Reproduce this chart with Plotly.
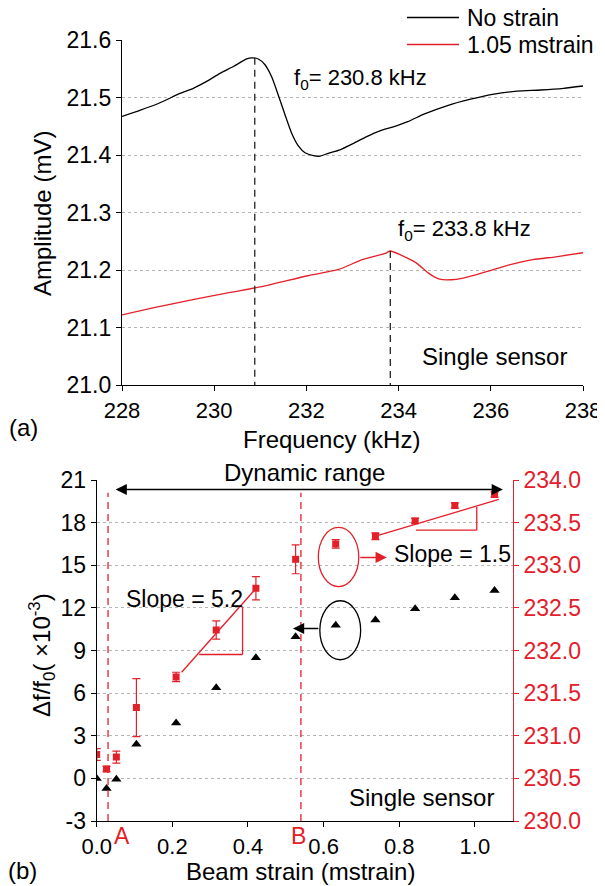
import plotly.graph_objects as go

# ---------------- data: panel (a) ----------------
freq_no_strain = [228.0, 228.4, 228.8, 229.258, 229.547, 229.836, 230.125, 230.415, 230.704, 230.812,
                  230.957, 231.102, 231.246, 231.391, 231.536, 231.68, 231.825, 231.97, 232.15, 232.295,
                  232.476, 232.729, 233.018, 233.308, 233.597, 233.886, 234.2, 234.55, 235.06, 235.56,
                  236.07, 236.57, 237.08, 237.58, 238.0]
amp_no_strain = [21.467, 21.478, 21.490, 21.507, 21.516, 21.528, 21.542, 21.554, 21.567, 21.569,
                 21.567, 21.557, 21.536, 21.504, 21.470, 21.438, 21.416, 21.404, 21.399, 21.398,
                 21.403, 21.409, 21.420, 21.432, 21.442, 21.449, 21.458, 21.471, 21.486, 21.497,
                 21.506, 21.511, 21.513, 21.516, 21.520]
freq_strain = [228.0, 228.67, 229.51, 230.35, 231.03, 232.03, 232.7, 233.21, 233.71, 233.82,
               234.05, 234.39, 234.64, 234.89, 235.14, 235.4, 235.9, 236.4, 236.91, 237.41, 238.0]
amp_strain = [21.122, 21.134, 21.148, 21.161, 21.171, 21.190, 21.201, 21.218, 21.229, 21.233,
              21.226, 21.212, 21.195, 21.184, 21.183, 21.186, 21.197, 21.209, 21.218, 21.223, 21.230]
peak_freq = [230.88, 233.82]
peak_amp = [21.569, 21.233]
peak_labels = ["f<sub>0</sub>= 230.8 kHz", "f<sub>0</sub>= 233.8 kHz"]
series_names = ["No strain", "1.05 mstrain"]
a_xticks = [228, 230, 232, 234, 236, 238]
a_yticks = [21.0, 21.1, 21.2, 21.3, 21.4, 21.5, 21.6]
a_yticklabels = ["21.0", "21.1", "21.2", "21.3", "21.4", "21.5", "21.6"]

# ---------------- data: panel (b) ----------------
strain = [0.0, 0.026, 0.052, 0.105, 0.21, 0.316, 0.421, 0.526, 0.632, 0.737, 0.842, 0.947, 1.052]
dff = [0.0, -0.72, -0.07, 2.41, 3.9, 6.38, 8.49, 9.96, 10.78, 11.15, 11.94, 12.72, 13.23]
res_freq = [230.78, 230.61, 230.75, 231.33, 231.69, 232.24, 232.73, 233.07, 233.25, 233.34,
            233.52, 233.70, 233.83]
res_err = [0.07, 0.03, 0.07, 0.34, 0.055, 0.107, 0.137, 0.17, 0.05, 0.04, 0.03, 0.03, 0.03]
marker_strain = [0.03, 0.54]
marker_labels = ["A", "B"]
b_xticks = [0.0, 0.2, 0.4, 0.6, 0.8, 1.0]
b_xticklabels = ["0.0", "0.2", "0.4", "0.6", "0.8", "1.0"]
b_yticks = [-3, 0, 3, 6, 9, 12, 15, 18, 21]
b_yticklabels = ["-3", "0", "3", "6", "9", "12", "15", "18", "21"]
b_y2ticks = [230.0, 230.5, 231.0, 231.5, 232.0, 232.5, 233.0, 233.5, 234.0]
b_y2ticklabels = ["230.0", "230.5", "231.0", "231.5", "232.0", "232.5", "233.0", "233.5", "234.0"]

# ---------------- styling ----------------
OFF = 8            # page offset of the plot div (default body margin)
W, H = 605 - OFF, 886 - OFF
RED = "#e3202a"
FONT = "Liberation Sans, Arial, sans-serif"
YTICK = 23
XTICK = 22
TXT = 23


def px(x):
    return (x - OFF) / W


def py(y):
    return 1 - (y - OFF) / H


fig = go.Figure()

# panel (a) curves
fig.add_trace(go.Scatter(x=freq_no_strain, y=amp_no_strain, mode="lines", name=series_names[0],
                         line=dict(color="black", width=1.3, shape="spline", smoothing=0.6),
                         xaxis="x", yaxis="y"))
fig.add_trace(go.Scatter(x=freq_strain, y=amp_strain, mode="lines", name=series_names[1],
                         line=dict(color=RED, width=1.3, shape="spline", smoothing=0.6),
                         xaxis="x", yaxis="y"))
# dashed peak markers
for f, a in zip(peak_freq, peak_amp):
    fig.add_trace(go.Scatter(x=[f, f], y=[a, a_yticks[0]], mode="lines", showlegend=False,
                             line=dict(color="#222222", width=1.3, dash="7px,5px"),
                             xaxis="x", yaxis="y"))

# panel (b)
fig.add_trace(go.Scatter(x=strain, y=dff, mode="markers", name="Δf/f0",
                         marker=dict(symbol="triangle-up", size=9, color="black"),
                         xaxis="x2", yaxis="y2"))
fig.add_trace(go.Scatter(x=strain, y=res_freq, mode="markers", name="Resonant frequency",
                         marker=dict(symbol="square", size=7, color=RED),
                         error_y=dict(type="data", array=res_err, visible=True, color=RED,
                                      thickness=1.2, width=4),
                         xaxis="x2", yaxis="y3"))

shapes = []
# A / B dashed lines
for s in marker_strain:
    shapes.append(dict(type="line", xref="x2", yref="y2", x0=s, x1=s, y0=-3, y1=20.1,
                       line=dict(color=RED, width=1.3, dash="7px,5px")))
# slope triangles
red_line = dict(color=RED, width=1.3)
shapes += [
    dict(type="line", xref="x2", yref="y2", x0=0.2246, y0=7.47, x1=0.421, y1=13.36, line=red_line),
    dict(type="line", xref="x2", yref="y2", x0=0.271, y0=8.72, x1=0.3857, y1=8.72, line=red_line),
    dict(type="line", xref="x2", yref="y2", x0=0.3857, y0=8.72, x1=0.3857, y1=12.1, line=red_line),
    dict(type="line", xref="x2", yref="y2", x0=0.731, y0=17.0, x1=1.063, y1=19.63, line=red_line),
    dict(type="line", xref="x2", yref="y2", x0=0.844, y0=17.47, x1=1.005, y1=17.47, line=red_line),
    dict(type="line", xref="x2", yref="y2", x0=1.005, y0=17.47, x1=1.005, y1=19.1, line=red_line),
    dict(type="circle", xref="x2", yref="y2", x0=0.586, x1=0.693, y0=13.5, y1=17.66,
         line=dict(color=RED, width=1.3)),
    dict(type="circle", xref="x2", yref="y2", x0=0.59, x1=0.698, y0=8.35, y1=12.5,
         line=dict(color="black", width=1.3)),
]
# manual legend samples
shapes += [
    dict(type="line", xref="paper", yref="paper", x0=px(407), x1=px(459), y0=py(17.5), y1=py(17.5),
         line=dict(color="black", width=1.3)),
    dict(type="line", xref="paper", yref="paper", x0=px(407), x1=px(459), y0=py(44.5), y1=py(44.5),
         line=dict(color=RED, width=1.3)),
]

ann = []


def text(x, y, t, size=TXT, color="black", xanchor="center", yanchor="middle", xref="paper",
         yref="paper", angle=0):
    ann.append(dict(x=x, y=y, text=t, showarrow=False, xref=xref, yref=yref, xanchor=xanchor,
                    yanchor=yanchor, textangle=angle, font=dict(size=size, color=color, family=FONT)))


# legend texts
text(px(465), py(17.5), series_names[0], xanchor="left")
text(px(465), py(44.5), series_names[1], xanchor="left")
# panel (a) texts
text(231.68, 21.532, peak_labels[0], xanchor="left", xref="x", yref="y", size=22)
text(233.95, 21.27, peak_labels[1], xanchor="left", xref="x", yref="y", size=22)
text(236.08, 21.05, "Single sensor", xref="x", yref="y", size=24)
text(px(331), py(439), "Frequency (kHz)", size=24)
text(px(42), py(214), "Amplitude (mV)", size=24, angle=-90)
text(px(23), py(428), "(a)", size=24)
# panel (b) texts
text(px(304), py(472), "Dynamic range", size=24)
text(0.233, 12.6, "Slope = 5.2", xref="x2", yref="y2")
text(0.941, 15.76, "Slope = 1.5", xref="x2", yref="y2")
text(0.859, -1.38, "Single sensor", xref="x2", yref="y2", size=24)
for s, lab, dx in zip(marker_strain, marker_labels, [0.036, -0.006]):
    text(s + dx, -3, lab, xref="x2", yref="y2", color=RED, size=23, yanchor="top")
text(px(300), py(871), "Beam strain (mstrain)", size=24)
text(px(42), py(655), "Δf/f<sub>0</sub>( ×10<sup>-3</sup>)", size=24, angle=-90)
text(px(609), py(647), "Resonant frequency (kHz)", size=24, angle=-90)
text(px(22), py(870), "(b)", size=24)

# arrows
ann.append(dict(x=1.074, y=20.33, ax=0.046, ay=20.33, xref="x2", yref="y2", axref="x2", ayref="y2",
                text="", showarrow=True, arrowhead=2, arrowside="end+start", arrowsize=1.6,
                arrowwidth=1.4, arrowcolor="black"))
ann.append(dict(x=0.767, y=15.55, ax=0.693, ay=15.55, xref="x2", yref="y2", axref="x2", ayref="y2",
                text="", showarrow=True, arrowhead=2, arrowsize=1.6, arrowwidth=1.4, arrowcolor=RED))
ann.append(dict(x=0.519, y=10.55, ax=0.59, ay=10.55, xref="x2", yref="y2", axref="x2", ayref="y2",
                text="", showarrow=True, arrowhead=2, arrowsize=1.6, arrowwidth=1.4,
                arrowcolor="black"))

axis_common = dict(showline=True, linecolor="black", linewidth=1.2, ticks="outside", ticklen=5,
                   tickwidth=1.2, tickcolor="black", zeroline=False, automargin=False)
xfont = dict(tickfont=dict(size=XTICK, family=FONT, color="black"))
yfont = dict(tickfont=dict(size=YTICK, family=FONT, color="black"))
grid = dict(showgrid=True, gridcolor="#b5b5b5", gridwidth=1, griddash="dot")

fig.update_layout(
    width=W, height=H, margin=dict(l=0, r=0, t=0, b=0, pad=0, autoexpand=False), autosize=False,
    paper_bgcolor="white", plot_bgcolor="white", showlegend=False,
    font=dict(family=FONT, color="black"),
    xaxis=dict(domain=[px(122), px(583)], range=[228, 238], tickvals=a_xticks, anchor="y",
               showgrid=False, **axis_common, **xfont),
    yaxis=dict(domain=[py(385), py(40)], range=[21.0, 21.6], tickvals=a_yticks,
               ticktext=a_yticklabels, anchor="x", **grid, **axis_common, **yfont),
    xaxis2=dict(domain=[px(96.7), px(512.7)], range=[0, 1.1], tickvals=b_xticks,
                ticktext=b_xticklabels, anchor="y2", showgrid=False, **axis_common, **xfont),
    yaxis2=dict(domain=[py(821), py(480)], range=[-3, 21], tickvals=b_yticks,
                ticktext=b_yticklabels, anchor="x2", **grid, **axis_common, **yfont),
    yaxis3=dict(overlaying="y2", side="right", anchor="x2", range=[230, 234], tickvals=b_y2ticks,
                ticktext=b_y2ticklabels, showgrid=False, showline=True, linecolor=RED,
                linewidth=1.2, ticks="outside", ticklen=5, tickwidth=1.2, tickcolor=RED,
                zeroline=False, automargin=False,
                tickfont=dict(size=YTICK, family=FONT, color=RED)),
    shapes=shapes, annotations=ann,
)

fig.write_html("out.html")
